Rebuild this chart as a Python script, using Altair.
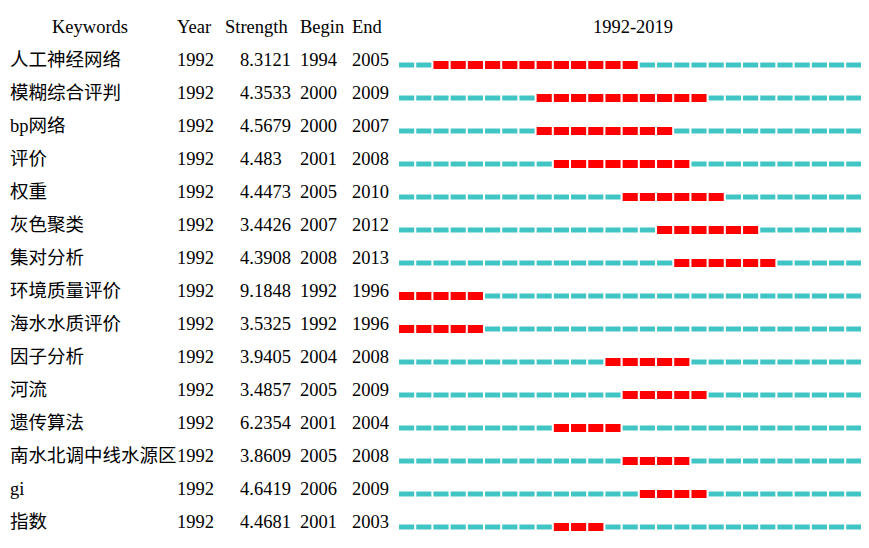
import altair as alt
import pandas as pd

# ---- data ----
keywords = ["人工神经网络", "模糊综合评判", "bp网络", "评价", "权重", "灰色聚类", "集对分析",
            "环境质量评价", "海水水质评价", "因子分析", "河流", "遗传算法", "南水北调中线水源区",
            "gi", "指数"]
years = [1992] * 15
strengths = ["8.3121", "4.3533", "4.5679", "4.483", "4.4473", "3.4426", "4.3908",
             "9.1848", "3.5325", "3.9405", "3.4857", "6.2354", "3.8609", "4.6419", "4.4681"]
begins = [1994, 2000, 2000, 2001, 2005, 2007, 2008, 1992, 1992, 2004, 2005, 2001, 2005, 2006, 2001]
ends = [2005, 2009, 2007, 2008, 2010, 2012, 2013, 1996, 1996, 2008, 2009, 2004, 2008, 2009, 2003]
headers = ["Keywords", "Year", "Strength", "Begin", "End"]
span_label = "1992-2019"
first_year, last_year = 1992, 2019

rows = pd.DataFrame({
    "row": list(range(1, len(keywords) + 1)),
    "kw": keywords,
    "year": [str(y) for y in years],
    "strength": strengths,
    "begin": [str(b) for b in begins],
    "end": [str(e) for e in ends],
})

seg = []
for i, (b, e) in enumerate(zip(begins, ends)):
    for y in range(first_year, last_year + 1):
        seg.append({"row": i + 1, "x0": y + 0.06, "x1": y + 0.94, "burst": bool(b <= y <= e)})
segdf = pd.DataFrame(seg)

FONT = "Liberation Serif, Noto Sans CJK SC"
FS = 18.5
yscale = alt.Scale(domain=[0, 15], range=[14, 519], nice=False, zero=False)
xscale = alt.Scale(domain=[first_year, last_year + 1], range=[390, 871.6], nice=False, zero=False)


def col(field, xpos, align):
    return alt.Chart(rows).mark_text(
        align=align, baseline="middle", font=FONT, fontSize=FS, color="black"
    ).encode(
        x=alt.value(xpos),
        y=alt.Y("row:Q", scale=yscale, axis=None),
        text=alt.Text(f"{field}:N"),
    )


def head(label, xpos, align):
    return alt.Chart(pd.DataFrame({"row": [0], "t": [label]})).mark_text(
        align=align, baseline="middle", font=FONT, fontSize=FS, color="black"
    ).encode(
        x=alt.value(xpos),
        y=alt.Y("row:Q", scale=yscale, axis=None),
        text="t:N",
    )


base = alt.Chart(segdf).encode(
    x=alt.X("x0:Q", scale=xscale, axis=None),
    x2="x1:Q",
    y=alt.Y("row:Q", scale=yscale, axis=None),
)
cyan = base.transform_filter("!datum.burst").mark_bar(size=5, color="#40C4C4", yOffset=5, clip=True)
red = base.transform_filter("datum.burst").mark_bar(size=8, color="#FF0000", yOffset=5, clip=True)

chart = alt.layer(
    cyan, red,
    head(headers[0], 82, "center"),
    head(headers[1], 169, "left"),
    head(headers[2], 217, "left"),
    head(headers[3], 292, "left"),
    head(headers[4], 344, "left"),
    head(span_label, 625, "center"),
    col("kw", 2, "left"),
    col("year", 169, "left"),
    col("strength", 232, "left"),
    col("begin", 292, "left"),
    col("end", 344, "left"),
).properties(
    width=853, height=528,
    autosize=alt.AutoSizeParams(type="none"),
    padding=0,
).configure_view(stroke=None)

chart.save("out.html", embed_options={"renderer": "svg", "actions": False})
